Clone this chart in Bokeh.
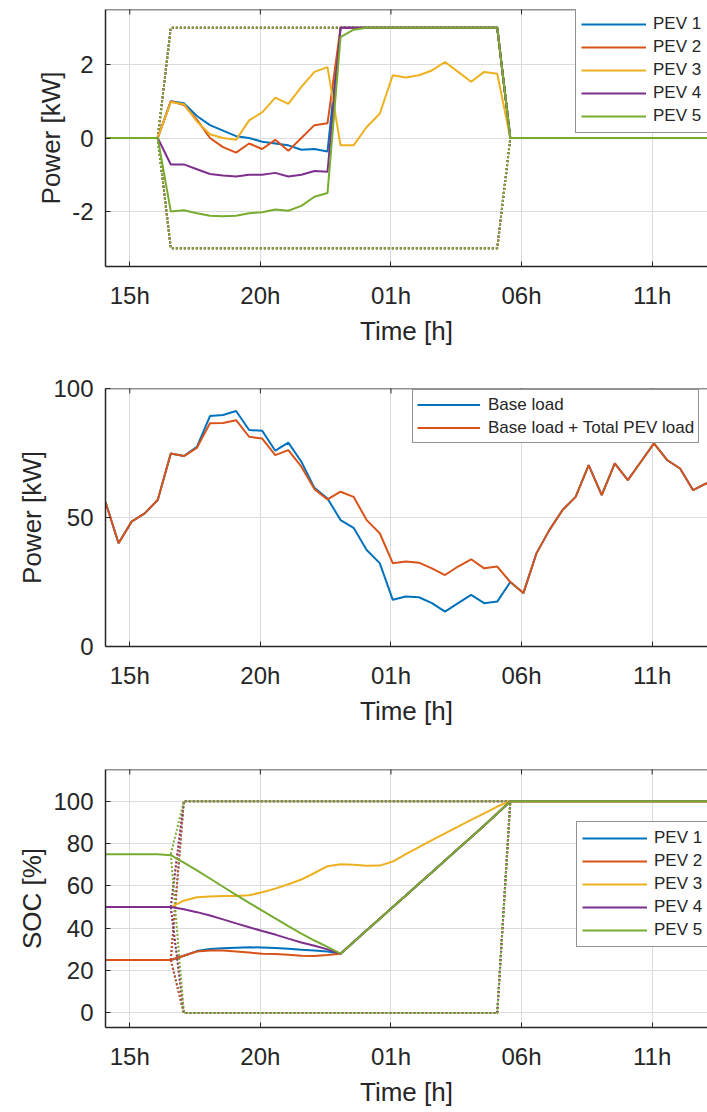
import math
from bokeh.plotting import figure
from bokeh.models import Range1d, FixedTicker, Legend, LegendItem, Span
from bokeh.layouts import column
from bokeh.embed import file_html
from bokeh.resources import INLINE

# ---------------- data ----------------
T_START = 14.07          # first sample (hours since midnight of day 1)
T_STEP = 0.5             # 30-minute resolution
N = 49
hours = [T_START + T_STEP * k for k in range(N)]
X_END = 37.12            # right edge of the visible window

tick_hours = [15, 20, 25, 30, 35]
tick_labels = ["15h", "20h", "01h", "06h", "11h"]

pev_names = ["PEV 1", "PEV 2", "PEV 3", "PEV 4", "PEV 5"]
pev_colors = ["#0072BD", "#D95319", "#EDB120", "#7E2F8E", "#77AC30"]

Z5 = [0, 0, 0, 0, 0]
Z18 = [0] * 18
power_pev1 = Z5 + [1.0, 0.95, 0.6, 0.35, 0.2, 0.05, 0.0, -0.1, -0.15, -0.2, -0.32, -0.3, -0.37] + [3] * 13 + Z18
power_pev2 = Z5 + [1.0, 0.9, 0.5, 0.0, -0.25, -0.4, -0.15, -0.3, -0.05, -0.35, 0.0, 0.35, 0.4] + [3] * 13 + Z18
power_pev3 = Z5 + [0.98, 0.92, 0.45, 0.1, 0.0, -0.05, 0.48, 0.7, 1.1, 0.93, 1.39, 1.8, 1.93] + \
    [-0.2, -0.2, 0.3, 0.66, 1.71, 1.65, 1.71, 1.84, 2.07, 1.8, 1.53, 1.8, 1.75] + Z18
power_pev4 = Z5 + [-0.72, -0.72, -0.85, -0.98, -1.02, -1.05, -1.0, -1.0, -0.95, -1.05, -1.0, -0.9, -0.92] + [3] * 13 + Z18
power_pev5 = Z5 + [-2.0, -1.97, -2.05, -2.12, -2.13, -2.12, -2.05, -2.02, -1.95, -1.98, -1.85, -1.6, -1.5] + \
    [2.75, 2.95] + [3] * 11 + Z18
power_series = [power_pev1, power_pev2, power_pev3, power_pev4, power_pev5]

# power limits (available while plugged in)
power_bound_hours = hours[4:32]
power_upper = [0] + [3] * 26 + [0]
power_lower = [0] + [-3] * 26 + [0]

base_load = [56, 40, 48.4, 51.6, 56.8, 74.8, 73.8, 77.4, 89.3, 89.7, 91.3, 83.9, 83.6, 75.9, 79.0, 71.6,
             61.5, 57.4, 49.0, 46.0, 37.4, 32.3, 18.1, 19.4, 19.1, 16.8, 13.5, 16.8, 20.0, 16.8, 17.4, 25.0,
             20.7, 36.1, 45.2, 52.9, 58.0, 70.3, 58.7, 71.0, 64.5, 71.6, 78.7, 72.3, 69.0, 60.6, 63.2, 60.0, 62.0]
total_load = [56, 40, 48.4, 51.6, 56.8, 74.8, 73.8, 77.0, 86.5, 86.6, 87.7, 81.3, 80.6, 74.2, 76.1, 69.7,
              61.0, 57.0, 60.0, 58.0, 49.0, 43.9, 32.3, 32.9, 32.5, 30.3, 27.7, 31.0, 33.8, 30.3, 31.0, 25.0,
              20.7, 36.1, 45.2, 52.9, 58.0, 70.3, 58.7, 71.0, 64.5, 71.6, 78.7, 72.3, 69.0, 60.6, 63.2, 60.0, 62.0]
load_names = ["Base load", "Base load + Total PEV load"]
load_colors = ["#0072BD", "#D95319"]

CHG = [28, 33.5, 39, 44.5, 50, 55.5, 61, 66.5, 72, 77.5, 83, 88.5, 94.2]
soc_pev1 = [25] * 6 + [27, 29.2, 30.2, 30.5, 30.8, 31, 30.9, 30.7, 30.3, 29.8, 29.5, 29] + CHG + [100] * 18
soc_pev2 = [25] * 6 + [27, 29, 29.5, 29.5, 29, 28.5, 28, 27.8, 27.5, 27, 26.9, 27.4] + CHG + [100] * 18
soc_pev3 = [50] * 6 + [53, 54.6, 55, 55.2, 55.2, 55.6, 57, 58.7, 60.8, 63, 66.1, 69.3] + \
    [70.2, 70, 69.5, 69.6, 71.5, 75, 78.3, 81.6, 84.8, 88, 91.2, 94.3, 97.5] + [100] * 18
soc_pev4 = [50] * 6 + [49, 47.6, 46, 44.2, 42.3, 40.5, 38.7, 37, 35.1, 33.3, 31.7, 30] + CHG + [100] * 18
soc_pev5 = [75] * 5 + [74.5] + [71, 67.3, 63.5, 59.6, 55.8, 52, 48.3, 44.7, 41, 37.5, 34.2, 31.2] + CHG + [100] * 18
soc_series = [soc_pev1, soc_pev2, soc_pev3, soc_pev4, soc_pev5]
soc_init = [25, 25, 50, 50, 75]

soc_bound_hours = hours[5:32]
soc_upper_tail = [100] * 26
soc_lower_tail = [0] * 25 + [100]

# ---------------- styling helpers ----------------
FONT = "Liberation Sans"
DARK = "#262626"
GRID = "#dcdcdc"


def make_fig(height, top, bottom, y0, y1, yticks, ylabel):
    p = figure(width=707, height=height, output_backend="svg", toolbar_location=None,
               x_range=Range1d(T_START, X_END), y_range=Range1d(y0, y1),
               min_border_left=105, min_border_right=0, min_border_top=top, min_border_bottom=bottom)
    p.outline_line_color = None
    p.background_fill_color = "white"
    p.border_fill_color = "white"
    xa = p.xaxis[0]
    xa.ticker = FixedTicker(ticks=tick_hours)
    xa.major_label_overrides = {h: l for h, l in zip(tick_hours, tick_labels)}
    xa.axis_label = "Time [h]"
    ya = p.yaxis[0]
    ya.ticker = FixedTicker(ticks=yticks)
    ya.major_label_overrides = {t: str(t) for t in yticks}
    ya.axis_label = ylabel
    for ax in (xa, ya):
        ax.major_tick_in = 5
        ax.major_tick_out = 0
        ax.minor_tick_line_color = None
        ax.axis_line_color = DARK
        ax.axis_line_width = 1.5
        ax.major_tick_line_color = DARK
        ax.major_tick_line_width = 1
        ax.major_label_text_font = FONT
        ax.major_label_text_font_size = "24px"
        ax.major_label_text_color = DARK
        ax.axis_label_text_font = FONT
        ax.axis_label_text_font_size = "26px"
        ax.axis_label_text_font_style = "normal"
        ax.axis_label_text_color = DARK
    xa.major_label_standoff = 15
    xa.axis_label_standoff = 4
    ya.major_label_standoff = 12
    ya.axis_label_standoff = 3
    # top border of the box and its inward ticks
    p.add_layout(Span(location=y1, dimension="width", line_color=DARK, line_width=1.5))
    p.scatter(tick_hours, [y1] * len(tick_hours), marker="dash", angle=math.pi / 2, size=10,
              line_color=DARK, line_width=1)
    p.xgrid.ticker = FixedTicker(ticks=tick_hours)
    p.ygrid.ticker = FixedTicker(ticks=yticks)
    for g in (p.xgrid, p.ygrid):
        g.grid_line_color = GRID
        g.grid_line_width = 1
    return p


def make_legend(items, loc, glyph_w, row_h, spacing, padding, standoff):
    lg = Legend(items=items, location=loc, orientation="vertical",
                border_line_color=DARK, border_line_width=1,
                background_fill_color="white", background_fill_alpha=1.0,
                label_text_font=FONT, label_text_font_size="17px", label_text_color=DARK,
                glyph_width=glyph_w, glyph_height=row_h, label_height=row_h, label_width=75,
                spacing=spacing, padding=padding, margin=0, label_standoff=standoff)
    return lg


# ---------------- panel 1: PEV power ----------------
p1 = make_fig(348, 9, 82, -3.5, 3.5, [-2, 0, 2], "Power [kW]")
for c in pev_colors:
    p1.line(power_bound_hours, power_upper, color=c, line_width=2, line_dash="2 2")
    p1.line(power_bound_hours, power_lower, color=c, line_width=2, line_dash="2 2")
r_pow = []
for s, c in zip(power_series, pev_colors):
    r_pow.append(p1.line(hours, s, color=c, line_width=2))
p1.add_layout(make_legend([LegendItem(label=n, renderers=[r]) for n, r in zip(pev_names, r_pow)],
                          (470, 133), 65, 22, 1, 5, 7))

# ---------------- panel 2: load ----------------
p2 = make_fig(380, 40, 82, 0, 100, [0, 50, 100], "Power [kW]")
r_load = []
for s, c in zip([base_load, total_load], load_colors):
    r_load.append(p2.line(hours, s, color=c, line_width=2))
p2.add_layout(make_legend([LegendItem(label=n, renderers=[r]) for n, r in zip(load_names, r_load)],
                          (307, 203), 63, 21, 2, 4, 8))

# ---------------- panel 3: SOC ----------------
p3 = make_fig(384, 41, 85, -6.9, 115, [0, 20, 40, 60, 80, 100], "SOC [%]")
for c, s0 in zip(pev_colors, soc_init):
    p3.line(soc_bound_hours, [s0] + soc_upper_tail, color=c, line_width=2, line_dash="2 2")
    p3.line(soc_bound_hours, [s0] + soc_lower_tail, color=c, line_width=2, line_dash="2 2")
r_soc = []
for s, c in zip(soc_series, pev_colors):
    r_soc.append(p3.line(hours, s, color=c, line_width=2))
p3.add_layout(make_legend([LegendItem(label=n, renderers=[r]) for n, r in zip(pev_names, r_soc)],
                          (471, 80), 65, 22, 1, 5, 7))

layout = column(p1, p2, p3)
open("out.html", "w").write(file_html(layout, INLINE))
